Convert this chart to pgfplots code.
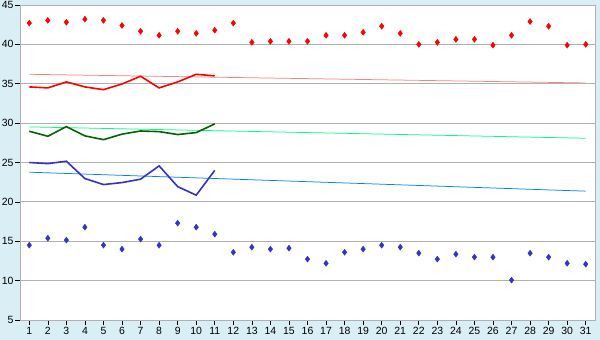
\documentclass[border=0pt]{standalone}
\usepackage{fontspec}
\setmainfont{Liberation Sans}
\usepackage{pgfplots}
\pgfplotsset{compat=1.18}
\definecolor{bgblue}{RGB}{218,238,245}
\definecolor{mred}{RGB}{255,0,0}
\definecolor{tred}{RGB}{255,128,128}
\definecolor{mgreen}{RGB}{0,100,0}
\definecolor{tgreen}{RGB}{0,255,128}
\definecolor{mblue}{RGB}{51,51,204}
\definecolor{tblue}{RGB}{0,128,255}
\definecolor{gridgray}{RGB}{176,176,176}
\begin{document}
\begin{tikzpicture}
\fill[bgblue] (-20bp,-20bp) rectangle (580bp,320bp);
\useasboundingbox (-20bp,-20bp) rectangle (580bp,320bp);
\begin{axis}[
  at={(0,0)}, anchor=south west,
  scale only axis, width=575bp, height=315bp,
  xmin=0.5, xmax=31.5, ymin=5, ymax=45,
  xtick={1,...,31}, ytick={5,10,...,45},
  tick align=outside, major tick length=5bp,
  xtick pos=bottom, ytick pos=left,
  ymajorgrids, grid style={gridgray, line width=0.75bp},
  axis line style={gridgray, line width=0.9bp},
  tick style={black, line width=0.6bp},
  axis background/.style={fill=white},
  tick label style={font=\fontsize{10.5}{11}\selectfont, black},
  xticklabel style={yshift=1.5bp},
  yticklabel style={xshift=2bp},
  /pgf/number format/assume math mode=true,
  clip=false,
]
% trend lines
\addplot[tred, line width=0.75bp] coordinates {(1,36.2) (31,35.1)};
\addplot[tgreen, line width=0.75bp] coordinates {(1,29.52) (31,28.08)};
\addplot[tblue, line width=0.75bp] coordinates {(1,23.77) (31,21.36)};
% lines
\addplot[mred, line width=1.6bp] coordinates {
(1,34.6) (2,34.47) (3,35.23) (4,34.6) (5,34.25) (6,34.97) (7,35.95) (8,34.47) (9,35.23) (10,36.2) (11,36.0)};
\addplot[mgreen, line width=1.6bp] coordinates {
(1,28.97) (2,28.33) (3,29.56) (4,28.38) (5,27.9) (6,28.6) (7,29.0) (8,28.92) (9,28.55) (10,28.8) (11,29.9)};
\addplot[mblue, line width=1.6bp] coordinates {
(1,25.0) (2,24.86) (3,25.16) (4,22.96) (5,22.2) (6,22.45) (7,22.88) (8,24.57) (9,21.94) (10,20.85) (11,24.0)};
% markers
\addplot[only marks, mark=diamond*, mark size=3bp, mred] coordinates {
(1,42.7) (2,43.05) (3,42.8) (4,43.2) (5,43.05) (6,42.4) (7,41.66) (8,41.15) (9,41.66) (10,41.4)
(11,41.8) (12,42.7) (13,40.26) (14,40.39) (15,40.39) (16,40.39) (17,41.15) (18,41.15) (19,41.53) (20,42.3)
(21,41.4) (22,40.0) (23,40.26) (24,40.64) (25,40.64) (26,39.9) (27,41.15) (28,42.9) (29,42.3) (30,39.9) (31,40.0)};
\addplot[only marks, mark=diamond*, mark size=3bp, mblue] coordinates {
(1,14.5) (2,15.39) (3,15.14) (4,16.79) (5,14.5) (6,14.0) (7,15.27) (8,14.5) (9,17.3) (10,16.79)
(11,15.9) (12,13.6) (13,14.25) (14,14.0) (15,14.12) (16,12.73) (17,12.2) (18,13.6) (19,14.0) (20,14.5)
(21,14.25) (22,13.49) (23,12.73) (24,13.36) (25,12.98) (26,12.98) (27,10.06) (28,13.49) (29,12.98) (30,12.2) (31,12.09)};
\end{axis}
\end{tikzpicture}
\end{document}
